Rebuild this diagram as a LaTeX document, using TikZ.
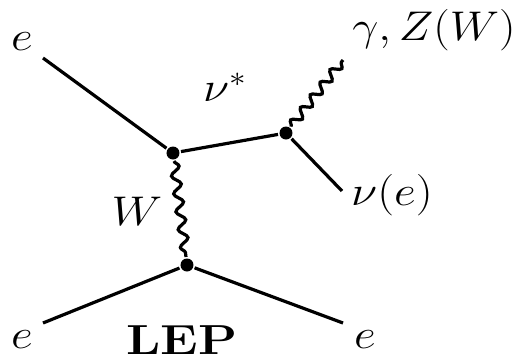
\documentclass[tikz,border=0pt]{standalone}
\usepackage{graphicx}
\usetikzlibrary{decorations.pathmorphing}

\newcommand{\wide}[2][1.15]{\scalebox{#1}[1]{#2}}

\begin{document}
\begin{tikzpicture}[x=.5pt,y=.5pt,line width=1.6pt,
  boson/.style={decorate,decoration={snake,segment length=9pt,amplitude=2.2pt}},
  lbl/.style={inner sep=0pt,font=\fontsize{20}{24}\selectfont},
  vtx/.style={circle,fill,inner sep=0pt,minimum size=6.5pt}]
\useasboundingbox (0,0) rectangle (516,361);
% vertices
\node[vtx] (A) at (173,208) {};
\node[vtx] (B) at (286,228) {};
\node[vtx] (C) at (187,96) {};
% free ends of the lines
\coordinate (eIn) at (43,303);
\coordinate (gOut) at (343,301);
\coordinate (nOut) at (342,170);
\coordinate (eLo) at (43,38);
\coordinate (eOut) at (343,38);

\draw (eIn) -- (A);
\draw (A) -- (B);
\draw[boson,decoration={segment length=8pt}] (B) -- (gOut);
\draw (B) -- (nOut);
\draw[boson] (A) -- (C);
\draw (C) -- (eLo);
\draw (C) -- (eOut);

% labels
\node[lbl] (eTL) at (22,319) {\wide{$e$}};
\node[lbl] (nustar) at (225,274) {\wide{$\nu^*$}};
\node[lbl] (gZ) at (434,331) {\wide[1.12]{$\gamma, Z(W)$}};
\node[lbl] (nue) at (392,166) {\wide{$\nu(e)$}};
\node[lbl] (Wlab) at (137,150) {\wide{$W$}};
\node[lbl] (eBL) at (22,21) {\wide{$e$}};
\node[lbl,font=\fontsize{21}{25}\selectfont] (lep) at (182,21) {\wide[1.21]{\textbf{LEP}}};
\node[lbl] (eBR) at (365,21) {\wide{$e$}};
\end{tikzpicture}
\end{document}
